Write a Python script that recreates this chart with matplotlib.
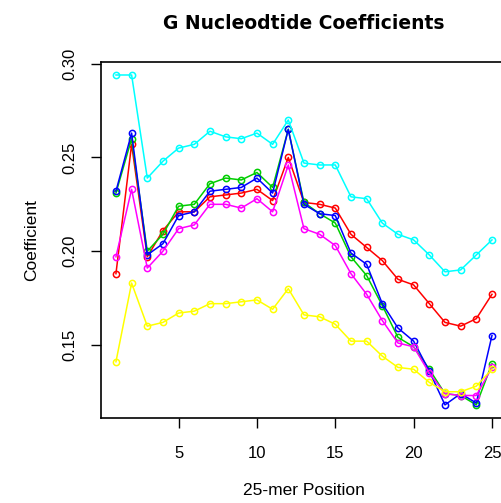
import matplotlib
matplotlib.use("Agg")
import matplotlib.pyplot as plt

# posiciones del 25-mer
posiciones = list(range(1, 26))

# coeficientes, una lista por curva
rojo = [0.188, 0.257, 0.197, 0.211, 0.221, 0.221, 0.229, 0.230, 0.231, 0.233,
        0.227, 0.250, 0.226, 0.225, 0.223, 0.209, 0.202, 0.195, 0.185, 0.182,
        0.172, 0.162, 0.160, 0.164, 0.177]
verde = [0.231, 0.260, 0.200, 0.209, 0.224, 0.225, 0.236, 0.239, 0.238, 0.242,
         0.234, 0.265, 0.226, 0.220, 0.215, 0.197, 0.187, 0.171, 0.154, 0.149,
         0.137, 0.124, 0.123, 0.118, 0.140]
azul = [0.232, 0.263, 0.198, 0.204, 0.219, 0.221, 0.232, 0.233, 0.234, 0.239,
        0.231, 0.265, 0.225, 0.220, 0.219, 0.199, 0.193, 0.172, 0.159, 0.152,
        0.136, 0.118, 0.124, 0.119, 0.155]
cian = [0.294, 0.294, 0.239, 0.248, 0.255, 0.257, 0.264, 0.261, 0.260, 0.263,
        0.257, 0.270, 0.247, 0.246, 0.246, 0.229, 0.228, 0.215, 0.209, 0.206,
        0.198, 0.189, 0.190, 0.198, 0.206]
magenta = [0.197, 0.233, 0.191, 0.200, 0.212, 0.214, 0.225, 0.225, 0.223, 0.228,
           0.221, 0.246, 0.212, 0.209, 0.203, 0.188, 0.177, 0.163, 0.151, 0.149,
           0.135, 0.124, 0.123, 0.123, 0.138]
amarillo = [0.141, 0.183, 0.160, 0.162, 0.167, 0.168, 0.172, 0.172, 0.173, 0.174,
            0.169, 0.180, 0.166, 0.165, 0.161, 0.152, 0.152, 0.144, 0.138, 0.137,
            0.130, 0.125, 0.125, 0.128, 0.137]

series = [rojo, verde, azul, cian, magenta, amarillo]
colores = ['#FF0000', '#00CD00', '#0000FF', '#00FFFF', '#FF00FF', '#FFFF00']

plt.rcParams['font.family'] = ['Liberation Sans', 'DejaVu Sans']

fig = plt.figure(figsize=(5.02, 5.03), dpi=100)
# el recuadro se sale un poco por la derecha, como en la original
ax = fig.add_axes([0.201, 0.169, 0.809, 0.708])

for valores, color in zip(series, colores):
    ax.plot(posiciones, valores, color=color, lw=1.1, marker='o', ms=4.5,
            mfc='none', mec=color, mew=1.1)

ax.set_xlim(0.04, 25.96)
ax.set_ylim(0.111, 0.301)
ax.set_xticks([5, 10, 15, 20, 25])
ax.set_yticks([0.15, 0.20, 0.25, 0.30])
ax.set_yticklabels(['0.15', '0.20', '0.25', '0.30'], rotation=90, va='center')
ax.tick_params(direction='out', length=7, width=1, labelsize=12)
ax.tick_params(axis='x', pad=13)
ax.tick_params(axis='y', pad=10)

for s in ax.spines.values():
    s.set_linewidth(1.2)

ax.set_xlabel('25-mer Position', fontsize=12.5, labelpad=16)
ax.set_ylabel('Coefficient', fontsize=12.5, labelpad=17)
ax.set_title('G Nucleodtide Coefficients', fontsize=13.5, fontweight='bold',
             family='DejaVu Sans', pad=24)

fig.savefig('out.png', dpi=100)
